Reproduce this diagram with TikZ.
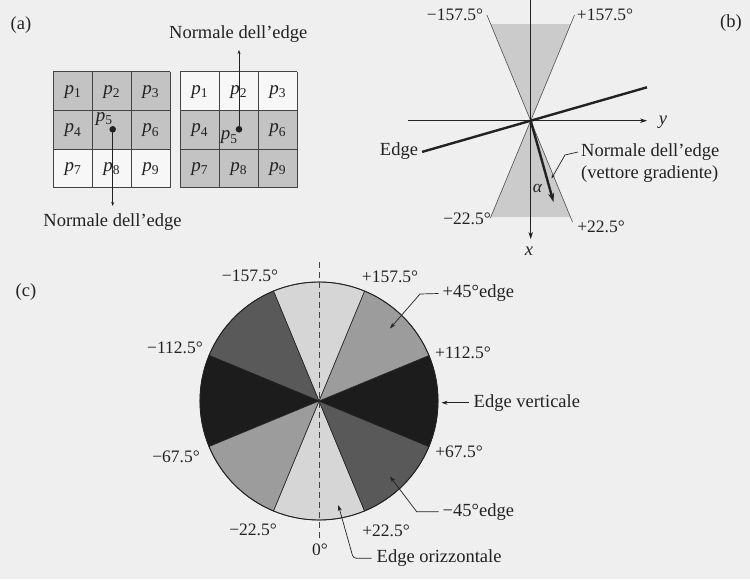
\documentclass[tikz,border=0pt]{standalone}
\usepackage{fontspec}
\setmainfont{Liberation Serif}
\usetikzlibrary{arrows.meta}
\definecolor{bg}{HTML}{EFEFEF}
\definecolor{cellgray}{HTML}{C3C3C3}
\definecolor{cellwhite}{HTML}{F7F7F7}
\definecolor{wedgegray}{HTML}{CBCBCB}
\definecolor{slight}{HTML}{D6D6D6}
\definecolor{smed}{HTML}{9C9C9C}
\definecolor{sdark}{HTML}{595959}
\definecolor{sblack}{HTML}{1C1C1C}
\definecolor{ink}{HTML}{222222}
\newcommand{\plbl}[1]{\textit{p}\raisebox{-0.35ex}{\fontsize{13.5}{13.5}\selectfont #1}}
\begin{document}
\begin{tikzpicture}[x=1pt,y=-1pt,
  lbl/.style={font=\fontsize{17.5}{20}\selectfont, inner sep=0pt, text=ink},
  txt/.style={font=\fontsize{18.5}{22}\selectfont, inner sep=0pt, text=ink},
  plab/.style={font=\fontsize{19}{22}\selectfont, inner sep=0pt, text=ink},
  gridline/.style={draw=ink!85, line width=0.8pt},
  thinline/.style={draw=ink, line width=0.6pt},
  leader/.style={draw=ink, line width=0.7pt, -{Stealth[length=6pt,width=4pt]}},
  axis/.style={draw=ink, line width=0.7pt, -{Stealth[length=7pt,width=4.5pt]}},
  thick edge/.style={draw=ink, line width=2.4pt}]
\fill[bg] (0,0) rectangle (750,579);
\useasboundingbox (0,0) rectangle (750,579);

% ---------------- (a) ----------------
\node[txt] (la) at (21,25) {(a)};
% left grid
\fill[cellgray] (53.3,71.7) rectangle (170,149.1);
\fill[cellwhite] (53.3,149.1) rectangle (170,187.7);
\foreach \i in {0,1,2,3} {
  \draw[gridline] ({53.3+38.9*\i},71.7) -- ({53.3+38.9*\i},187.7);
  \draw[gridline] (53.3,{71.7+38.67*\i}) -- (170,{71.7+38.67*\i});
}
% right grid
\fill[cellwhite] (180,71.7) rectangle (297.3,110.4);
\fill[cellgray] (180,110.4) rectangle (297.3,187.7);
\foreach \i in {0,1,2,3} {
  \draw[gridline] ({180+39.1*\i},71.7) -- ({180+39.1*\i},187.7);
  \draw[gridline] (180,{71.7+38.67*\i}) -- (297.3,{71.7+38.67*\i});
}
% labels left grid
\node[plab] (L1) at (72.7,92) {\plbl{1}};
\node[plab] (L2) at (111.6,92) {\plbl{2}};
\node[plab] (L3) at (150.5,92) {\plbl{3}};
\node[plab] (L4) at (72.7,130.5) {\plbl{4}};
\node[plab] (L5) at (104,119) {\plbl{5}};
\node[plab] (L6) at (150.5,130.5) {\plbl{6}};
\node[plab] (L7) at (72.7,169) {\plbl{7}};
\node[plab] (L8) at (111.6,169) {\plbl{8}};
\node[plab] (L9) at (150.5,169) {\plbl{9}};
% labels right grid
\node[plab] (R1) at (199.5,92) {\plbl{1}};
\node[plab] (R2) at (238.5,92) {\plbl{2}};
\node[plab] (R3) at (277.5,92) {\plbl{3}};
\node[plab] (R4) at (199.5,130.5) {\plbl{4}};
\node[plab] (R5) at (229,137.5) {\plbl{5}};
\node[plab] (R6) at (277.5,130.5) {\plbl{6}};
\node[plab] (R7) at (199.5,169) {\plbl{7}};
\node[plab] (R8) at (238.5,169) {\plbl{8}};
\node[plab] (R9) at (277.5,169) {\plbl{9}};
% dots and normals
\fill[ink] (112.7,129.3) circle[radius=3.3];
\coordinate (dL) at (112.7,129.3);
\coordinate (nL) at (112.7,206);
\draw[leader,-{Stealth[length=4pt,width=3pt]}] (dL) -- (nL);
\node[txt] (tnL) at (112.5,222) {Normale dell’edge};
\fill[ink] (239,129.3) circle[radius=3.3];
\coordinate (dR) at (239,129.3);
\coordinate (nR) at (239,50);
\draw[leader,-{Stealth[length=4pt,width=3pt]}] (dR) -- (nR);
\node[txt] (tnR) at (238.3,34) {Normale dell’edge};

% ---------------- (b) ----------------
\node[txt] (lb) at (731,23) {(b)};
\coordinate (O) at (530.7,120.7);
\fill[wedgegray] (O) -- (490.7,24) -- (570.7,24) -- cycle;
\fill[wedgegray] (O) -- (490.8,217) -- (570.6,217) -- cycle;
\draw[thinline, draw=ink!80] (486.9,15) -- (O) -- (574.5,15);
\draw[thinline, draw=ink!80] (490.4,218) -- (O) -- (572.5,222);
\coordinate (xtop) at (530.7,0);
\coordinate (xend) at (530.7,239);
\coordinate (ystart) at (408,120.7);
\coordinate (yend) at (647,120.7);
\draw[axis] (xtop) -- (xend);
\draw[axis] (ystart) -- (yend);
\node[txt, font=\fontsize{18.5}{22}\selectfont\itshape] (xl) at (529,251) {x};
\node[txt, font=\fontsize{18.5}{22}\selectfont\itshape] (yl) at (663,122) {y};
\coordinate (eL) at (422.1,151.9);
\coordinate (eR) at (647,87.3);
\draw[thick edge] (eL) -- (eR);
\node[txt] (edgel) at (399,151.5) {Edge};
\coordinate (gtip) at (553.5,202);
\draw[draw=ink, line width=2.4pt, -{Stealth[length=9pt,width=6pt]}] (O) -- (gtip);
\node[txt, font=\fontsize{17.5}{20}\selectfont\itshape] (al) at (537.5,188) {α};
\node[lbl] (bm157) at (455,15) {−157.5°};
\node[lbl] (bp157) at (605,15) {+157.5°};
\node[lbl] (bm22) at (467,219) {−22.5°};
\node[lbl] (bp22) at (601,226.5) {+22.5°};
\node[txt, anchor=west] (nb1) at (581,152) {Normale dell’edge};
\node[txt, anchor=west] (nb2) at (581,174) {(vettore gradiente)};
\coordinate (nbtip) at (551.5,178.5);
\draw[leader,-{Stealth[length=4pt,width=3pt]}] ([xshift=-3pt]nb1.west) -- (565,155) -- (nbtip);

% ---------------- (c) ----------------
\node[txt] (lc) at (26,292) {(c)};
\coordinate (C) at (319,401);
\begin{scope}[shift={(319,401)}, yscale=-1]
  \foreach \a/\b/\c in {247.5/292.5/slight, 292.5/337.5/sdark, -22.5/22.5/sblack, 22.5/67.5/smed, 67.5/112.5/slight, 112.5/157.5/sdark, 157.5/202.5/sblack, 202.5/247.5/smed}
    \filldraw[fill=\c, draw=ink, line width=0.6pt] (0,0) -- (\a:119) arc[start angle=\a, end angle=\b, radius=119] -- cycle;
  \draw[draw=ink, line width=0.9pt] (0,0) circle[radius=119];
\end{scope}
\coordinate (dtop) at (319,262);
\coordinate (dbot) at (319,541);
\draw[draw=ink!85, line width=0.6pt, dash pattern=on 6pt off 4pt] (dtop) -- (dbot);

\node[lbl] (cm157) at (250,276) {−157.5°};
\node[lbl] (cp157) at (390,276.5) {+157.5°};
\node[lbl] (cm112) at (175,348) {−112.5°};
\node[lbl] (cp112) at (463,353) {+112.5°};
\node[lbl] (cm67) at (176,456.5) {−67.5°};
\node[lbl] (cp67) at (459,451.5) {+67.5°};
\node[lbl] (cm22) at (253,530) {−22.5°};
\node[lbl] (cp22) at (386,531) {+22.5°};
\node[lbl] (c0) at (320,550) {0°};

\node[txt, anchor=west] (e45) at (442.5,293.5) {+45°edge};
\coordinate (t45) at (390,328.5);
\draw[leader] ([xshift=-4pt]e45.west) -- (420,294) -- (t45);

\node[txt, anchor=west] (ever) at (473.5,402.7) {Edge verticale};
\coordinate (tver) at (441.5,402.7);
\draw[leader] ([xshift=-5pt]ever.west) -- (tver);

\node[txt, anchor=west] (em45) at (442.5,511.7) {−45°edge};
\coordinate (tm45) at (390,476.5);
\draw[leader] ([xshift=-4pt]em45.west) -- (416.7,511.7) -- (tm45);

\node[txt, anchor=west] (eor) at (376.5,558.3) {Edge orizzontale};
\coordinate (tor) at (338.3,505);
\draw[leader, rounded corners=3pt] ([xshift=-5pt]eor.west) -- (353.3,558.3) -- (tor);
\end{tikzpicture}
\end{document}
